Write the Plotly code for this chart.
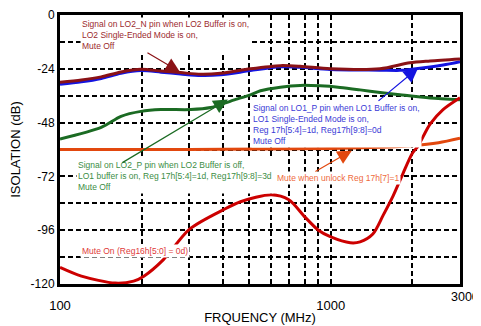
import numpy as np
import plotly.graph_objects as go

# series (frequency in MHz, isolation in dB)
lo2n_freq = [100, 120, 142, 168, 199, 236, 279, 331, 392, 505, 651, 771, 996, 1520, 1958, 2326, 3000]
lo2n_db = [-30, -29, -27.6, -25.4, -24.2, -25, -25.7, -26.4, -26, -24, -22.6, -22.9, -24, -24, -21.3, -20.5, -19.6]

lo1p_freq = [100, 120, 142, 168, 199, 236, 279, 331, 392, 505, 651, 771, 996, 1520, 1800, 1958, 2326, 2600, 3000]
lo1p_db = [-30.9, -29.8, -28.3, -26, -24.8, -25.5, -26.3, -27, -26.7, -24.8, -23.1, -23.3, -24.3, -24.6, -24.7, -24.3, -23.2, -22.3, -20.8]

lo2p_freq = [100, 142, 168, 199, 236, 304, 360, 409, 437, 505, 550, 651, 771, 913, 1082, 1283, 1520, 1800, 2326, 3000]
lo2p_db = [-55.3, -50.1, -45.2, -43, -42.2, -42.2, -41.3, -39.2, -38, -35.6, -33.8, -32.2, -31.4, -31.6, -32.3, -33.4, -34.6, -35.6, -37, -37.8]

unlock_freq = [100, 300, 600, 1000, 1500, 2000, 2500, 3000]
unlock_db = [-60, -60, -59.8, -59.5, -59, -58.3, -57, -55]

mute_freq = [100, 120, 160, 187, 204, 241, 301, 402, 464, 603, 700, 805, 900, 1000, 1180, 1283, 1430, 1560, 1699, 1849, 1996, 2101, 2326, 2597, 3000]
mute_db = [-112.6, -116.5, -119.6, -118.7, -116.5, -109.1, -95.5, -86.8, -83.3, -80.2, -82.4, -90.3, -96, -99, -101.6, -101.2, -97.7, -89.4, -80.7, -70.6, -61.9, -58.4, -48.7, -42.2, -36.9]

x_grid = [100, 200, 300, 400, 500, 600, 700, 800, 900, 1000, 2000, 3000]
x_labels = ["100", "", "", "", "", "", "", "", "", "1000", "", ""]
y_grid = [0, -12, -24, -36, -48, -60, -72, -84, -96, -108, -120]
y_labels = ["0", "", "-24", "", "-48", "", "-72", "", "-96", "", "-120"]

FONT = "Liberation Sans, Arial, sans-serif"

fig = go.Figure()

series = [
    (lo1p_freq, lo1p_db, "#1414E0"),
    (lo2n_freq, lo2n_db, "#8A1216"),
    (lo2p_freq, lo2p_db, "#1B6B23"),
    (unlock_freq, unlock_db, "#E2480E"),
    (mute_freq, mute_db, "#CC0000"),
]
for fx, fy, col in series:
    fig.add_trace(go.Scatter(x=fx, y=fy, mode="lines",
                             line=dict(color=col, width=3, shape="spline", smoothing=0.8),
                             showlegend=False, hoverinfo="skip"))

# callout texts (white box hides grid underneath like the original)
notes = [
    ("Signal on LO2_N pin when LO2 Buffer is on,<br>LO2 Single-Ended Mode is on,<br>Mute Off",
     2.074, -9.0, "#9B2A2E"),
    ("Signal on LO1_P pin when LO1 Buffer is on,<br>LO1 Single-Ended Mode is on,<br>"
     "Reg 17h[5:4]=1d, Reg17h[9:8]=0d<br>Mute Off", 2.705, -48.7, "#3A3AD6"),
    ("Signal on LO2_P pin when LO2 Buffer is off,<br>LO1 buffer is on, Reg 17h[5:4]=1d, "
     "Reg17h[9:8]=3d<br>Mute Off", 2.059, -72.0, "#3B8D45"),
    ("Mute when unlock Reg 17h[7]=1", 2.794, -72.6, "#EE6A3C"),
    ("Mute On (Reg16h[5:0] = 0d)", 2.074, -105.3, "#E03A3A"),
]
for txt, lx, ly, col in notes:
    fig.add_annotation(x=lx, y=ly, text=txt, showarrow=False, xanchor="left", yanchor="middle",
                       align="left", bgcolor="white", borderpad=1,
                       font=dict(family=FONT, size=8.5, color=col))

# pointer arrows: tip on the curve, tail offset in px
arrows = [
    (2.443, -25.4, -34, -20, "#8A1216"),
    (2.620, -37.7, -107, 64, "#1B6B23"),
    (3.322, -23.7, -41, 34, "#1414E0"),
    (3.078, -60.4, -38, 22, "#E2480E"),
]
for tx, ty, ax, ay, col in arrows:
    fig.add_annotation(x=tx, y=ty, ax=ax, ay=ay, text="", showarrow=True,
                       arrowhead=2, arrowsize=2.4, arrowwidth=1.2, arrowcolor=col)

# the 3000 label sits a bit higher/right in the original
fig.add_annotation(x=1, y=0, xref="paper", yref="paper", text="3000", showarrow=False,
                   xanchor="center", yanchor="top", xshift=5, yshift=-4,
                   font=dict(family=FONT, size=12.5, color="black"))

axis_common = dict(
    showline=True, linecolor="black", linewidth=3, mirror=True,
    showgrid=True, gridcolor="black", gridwidth=2, griddash="5px,3px",
    ticks="", zeroline=False, automargin=False, ticklabeloverflow="allow",
)
fig.update_xaxes(type="log", range=[2, np.log10(3000)], tickvals=x_grid, ticktext=x_labels,
                 ticklabelstandoff=7, tickfont=dict(family=FONT, size=13, color="black"),
                 title=dict(text="FRQUENCY (MHz)", font=dict(family=FONT, size=13, color="black"),
                            standoff=2),
                 **axis_common)
fig.update_yaxes(range=[-120, 0], tickvals=y_grid, ticktext=y_labels,
                 tickfont=dict(family=FONT, size=12, color="black"),
                 title=dict(text="ISOLATION (dB)", font=dict(family=FONT, size=13, color="black"),
                            standoff=11),
                 **axis_common)

# page body adds an 8px offset, so the figure is sized to fit inside the window
fig.update_layout(
    width=473, height=318,
    margin=dict(l=52, r=21, t=7, b=42),
    plot_bgcolor="white", paper_bgcolor="white",
    font=dict(family=FONT),
    showlegend=False,
)

fig.write_html("out.html")
